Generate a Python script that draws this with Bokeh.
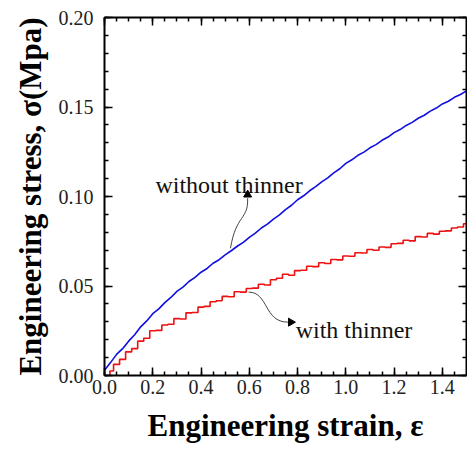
import math
from bokeh.plotting import figure
from bokeh.models import LinearAxis, SingleIntervalTicker, NumeralTickFormatter, Range1d, CustomJSTickFormatter
from bokeh.core.properties import value
from bokeh.embed import file_html
from bokeh.resources import INLINE

# ---- data ----
strain_blue = [0.000, 0.025, 0.050, 0.075, 0.100, 0.125, 0.150, 0.175, 0.200, 0.225,
               0.250, 0.275, 0.300, 0.325, 0.350, 0.375, 0.400, 0.425, 0.450, 0.475,
               0.500, 0.525, 0.550, 0.575, 0.600, 0.625, 0.650, 0.675, 0.700, 0.725,
               0.750, 0.775, 0.800, 0.825, 0.850, 0.875, 0.900, 0.925, 0.950, 0.975,
               1.000, 1.025, 1.050, 1.075, 1.100, 1.125, 1.150, 1.175, 1.200, 1.225,
               1.250, 1.275, 1.300, 1.325, 1.350, 1.375, 1.400, 1.425, 1.450, 1.475, 1.500]
stress_blue = [0.0030, 0.0072, 0.0118, 0.0150, 0.0192, 0.0228, 0.0272, 0.0305, 0.0345, 0.0372,
               0.0407, 0.0436, 0.0470, 0.0494, 0.0525, 0.0548, 0.0577, 0.0598, 0.0627, 0.0647,
               0.0674, 0.0697, 0.0722, 0.0744, 0.0772, 0.0795, 0.0824, 0.0846, 0.0874, 0.0897,
               0.0927, 0.0951, 0.0982, 0.1004, 0.1032, 0.1055, 0.1082, 0.1104, 0.1132, 0.1155,
               0.1185, 0.1205, 0.1230, 0.1248, 0.1272, 0.1290, 0.1314, 0.1332, 0.1357, 0.1374,
               0.1397, 0.1414, 0.1437, 0.1454, 0.1477, 0.1494, 0.1517, 0.1532, 0.1554, 0.1570, 0.1590]

strain_red = [0.020, 0.025, 0.050, 0.075, 0.100, 0.125, 0.150, 0.175, 0.200, 0.225,
              0.250, 0.275, 0.300, 0.325, 0.350, 0.375, 0.400, 0.425, 0.450, 0.475,
              0.500, 0.525, 0.550, 0.575, 0.600, 0.625, 0.650, 0.675, 0.700, 0.725,
              0.750, 0.775, 0.800, 0.825, 0.850, 0.875, 0.900, 0.925, 0.950, 0.975,
              1.000, 1.025, 1.050, 1.075, 1.100, 1.125, 1.150, 1.175, 1.200, 1.225,
              1.250, 1.275, 1.300, 1.325, 1.350, 1.375, 1.400, 1.425, 1.450, 1.475, 1.500]
stress_red = [0.0000, 0.0025, 0.0062, 0.0090, 0.0132, 0.0150, 0.0192, 0.0208, 0.0250, 0.0252,
              0.0282, 0.0286, 0.0318, 0.0316, 0.0350, 0.0352, 0.0382, 0.0386, 0.0412, 0.0418,
              0.0442, 0.0440, 0.0468, 0.0466, 0.0486, 0.0488, 0.0510, 0.0506, 0.0535, 0.0543,
              0.0566, 0.0560, 0.0586, 0.0588, 0.0610, 0.0608, 0.0630, 0.0626, 0.0648, 0.0646,
              0.0668, 0.0666, 0.0686, 0.0684, 0.0704, 0.0700, 0.0718, 0.0716, 0.0736, 0.0738,
              0.0756, 0.0752, 0.0776, 0.0774, 0.0794, 0.0790, 0.0806, 0.0808, 0.0824, 0.0830, 0.0848]

x_ticks_interval = 0.2
y_ticks_interval = 0.05

SERIF = "Times New Roman"

p = figure(width=467, height=453, output_backend="svg", toolbar_location=None,
           x_range=Range1d(0, 1.5), y_range=Range1d(0, 0.2),
           min_border_left=104, min_border_top=17, min_border_bottom=78, min_border_right=1)
p.grid.visible = False
p.outline_line_color = None
p.background_fill_color = "white"

xt = SingleIntervalTicker(interval=x_ticks_interval, num_minor_ticks=4)
yt = SingleIntervalTicker(interval=y_ticks_interval, num_minor_ticks=5)

def style(ax, show_labels):
    ax.axis_line_width = 2
    ax.axis_line_color = "black"
    ax.major_tick_in = 8
    ax.major_tick_out = 0
    ax.minor_tick_in = 4
    ax.minor_tick_out = 0
    ax.major_tick_line_width = 1.5
    ax.minor_tick_line_width = 1.5
    ax.major_tick_line_color = "black"
    ax.minor_tick_line_color = "black"
    if show_labels:
        ax.major_label_text_font = SERIF
        ax.major_label_text_font_size = "20px"
        ax.major_label_text_color = "#222222"
        ax.axis_label_text_font = SERIF
        ax.axis_label_text_font_size = "31px"
        ax.axis_label_text_font_style = "bold"
        ax.axis_label_text_color = "black"
    else:
        ax.formatter = CustomJSTickFormatter(code="return ''")
        ax.major_label_standoff = 0

xa = p.xaxis[0]
xa.ticker = xt
xa.formatter = NumeralTickFormatter(format="0.0")
xa.axis_label = "Engineering strain, ε"
style(xa, True)
xa.major_label_standoff = 4
xa.axis_label_standoff = 11

ya = p.yaxis[0]
ya.ticker = yt
ya.formatter = NumeralTickFormatter(format="0.00")
ya.axis_label = "Engineering stress, σ(Mpa)"
style(ya, True)
ya.major_label_standoff = 11
ya.axis_label_standoff = 8

ra = LinearAxis(ticker=yt)
style(ra, False)
p.add_layout(ra, "right")
ta = LinearAxis(ticker=xt)
style(ta, False)
p.add_layout(ta, "above")

p.line(strain_blue, stress_blue, line_color="#1010e0", line_width=1.6)
p.step(strain_red, stress_red, line_color="#ee1111", line_width=1.6, mode="center")

# annotations
p.text(x=[0.211], y=[0.1063], text=["without thinner"], text_font=value(SERIF),
       text_font_size="24px", text_color="#111111", text_baseline="alphabetic")
p.text(x=[0.792], y=[0.0254], text=["with thinner"], text_font=value(SERIF),
       text_font_size="24px", text_color="#111111", text_baseline="alphabetic")

p.bezier(x0=[0.522], y0=[0.0711], x1=[0.593], y1=[0.0990],
         cx0=[0.545], cy0=[0.0900], cx1=[0.597], cy1=[0.0870],
         line_color="#444444", line_width=1)
p.scatter(x=[0.593], y=[0.1010], marker="triangle", size=8,
          fill_color="black", line_color="black")

p.bezier(x0=[0.597], y0=[0.0466], x1=[0.760], y1=[0.0298],
         cx0=[0.680], cy0=[0.0466], cx1=[0.660], cy1=[0.0298],
         line_color="#444444", line_width=1)
p.scatter(x=[0.772], y=[0.0298], marker="triangle", size=8, angle=-math.pi / 2,
          fill_color="black", line_color="black")

open("out.html", "w").write(file_html(p, INLINE))
